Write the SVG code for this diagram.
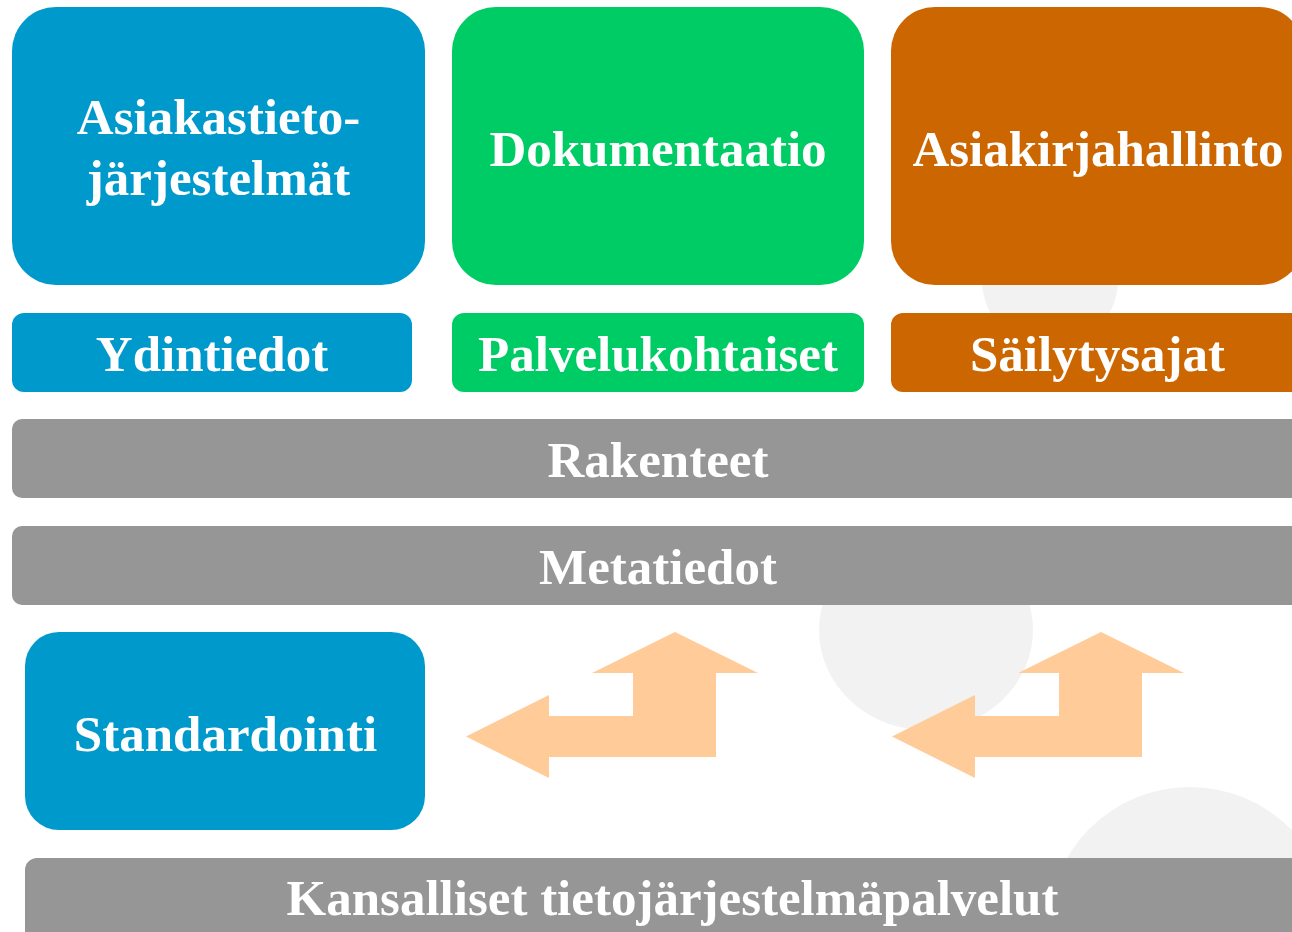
<svg xmlns="http://www.w3.org/2000/svg" width="1292" height="932" viewBox="0 0 1292 932">
<style>
.t{font-family:"Liberation Serif","Times New Roman",serif;font-weight:bold;font-size:51px;fill:#fff;text-anchor:middle}
.blue{fill:#0099CC}
.green{fill:#00CC66}
.orange{fill:#CC6600}
.grey{fill:#969696}
.bg{fill:#F2F2F2}
.arrow{fill:#FFCC99}
</style>
<rect width="1292" height="932" fill="#fff"/>
<g id="background">
<ellipse class="bg" cx="926" cy="630" rx="107" ry="100"/>
<circle class="bg" cx="1050" cy="280" r="68"/>
<circle class="bg" cx="1190" cy="929" r="142"/>
</g>
<g id="asiakastietojarjestelmat">
<rect class="blue" x="12" y="7" width="413" height="278" rx="44"/>
<text class="t" x="218.5" y="134">Asiakastieto-</text>
<text class="t" x="218.5" y="195">järjestelmät</text>
</g>
<g id="dokumentaatio">
<rect class="green" x="452" y="7" width="412" height="278" rx="44"/>
<text class="t" x="658" y="166">Dokumentaatio</text>
</g>
<g id="asiakirjahallinto">
<rect class="orange" x="891" y="7" width="413" height="278" rx="44"/>
<text class="t" x="1098" y="166">Asiakirjahallinto</text>
</g>
<g id="ydintiedot">
<rect class="blue" x="12" y="313" width="400" height="79" rx="12"/>
<text class="t" x="212" y="371">Ydintiedot</text>
</g>
<g id="palvelukohtaiset">
<rect class="green" x="452" y="313" width="412" height="79" rx="12"/>
<text class="t" x="658" y="371">Palvelukohtaiset</text>
</g>
<g id="sailytysajat">
<rect class="orange" x="891" y="313" width="413" height="79" rx="12"/>
<text class="t" x="1097.5" y="371">Säilytysajat</text>
</g>
<g id="rakenteet">
<rect class="grey" x="12" y="419" width="1292" height="79" rx="10"/>
<text class="t" x="658" y="477">Rakenteet</text>
</g>
<g id="metatiedot">
<rect class="grey" x="12" y="526" width="1292" height="79" rx="10"/>
<text class="t" x="658" y="584">Metatiedot</text>
</g>
<g id="standardointi">
<rect class="blue" x="25" y="632" width="400" height="198" rx="34"/>
<text class="t" x="225.5" y="751">Standardointi</text>
</g>
<g id="kansalliset">
<rect class="grey" x="25" y="858" width="1295" height="90" rx="12"/>
<text class="t" x="672.5" y="915">Kansalliset tietojärjestelmäpalvelut</text>
</g>
<g id="connectors">
<path class="arrow" d="M675,632 L758,673 L716,673 L716,757 L549,757 L549,778 L466,736.5 L549,695 L549,716 L633,716 L633,673 L592,673 Z"/>
<path class="arrow" d="M1101,632 L1184,673 L1142,673 L1142,757 L975,757 L975,778 L892,736.5 L975,695 L975,716 L1059,716 L1059,673 L1018,673 Z"/>
</g>
</svg>
